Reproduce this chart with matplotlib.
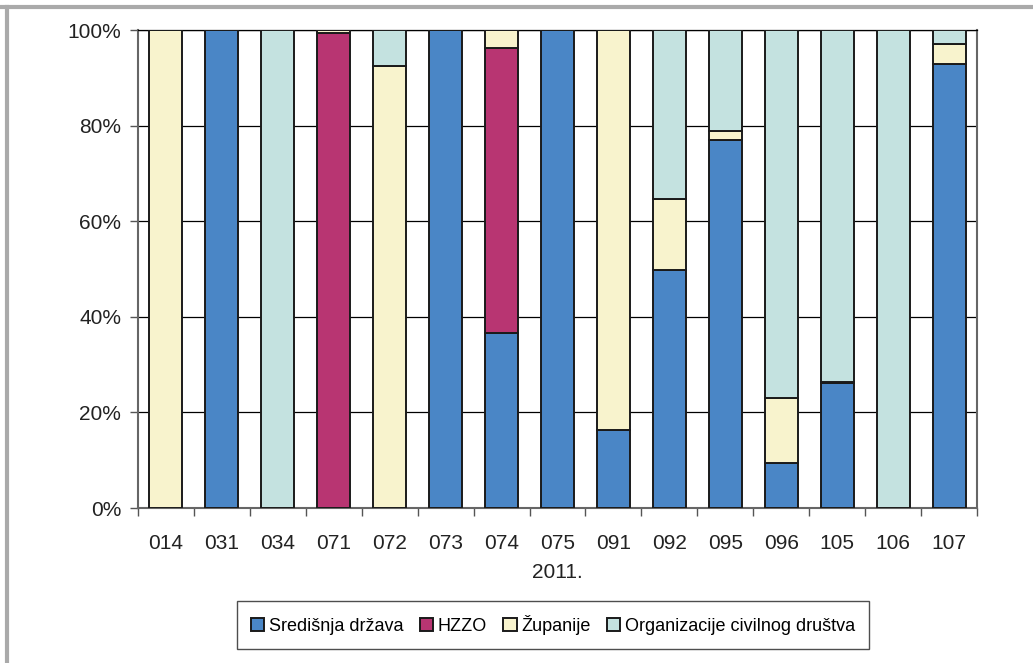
import numpy as np
import matplotlib.pyplot as plt
from matplotlib.lines import Line2D

plt.rcParams['font.family'] = ['Liberation Sans', 'DejaVu Sans']

categories = ['014', '031', '034', '071', '072', '073', '074', '075',
              '091', '092', '095', '096', '105', '106', '107']
series_names = ['Središnja država', 'HZZO', 'Županije', 'Organizacije civilnog društva']
colors = ['#4a86c6', '#b83572', '#f8f3cd', '#c4e2e0']

sredisnja = [0, 100, 0, 0, 0, 100, 36.6, 100, 16.3, 49.8, 76.9, 9.5, 26.1, 0, 92.8]
hzzo      = [0, 0, 0, 99.4, 0, 0, 59.6, 0, 0, 0, 0, 0, 0, 0, 0]
zupanije  = [100, 0, 0, 0.6, 92.5, 0, 3.8, 0, 83.7, 14.8, 1.9, 13.6, 0.3, 0, 4.2]
civilno   = [0, 0, 100, 0, 7.5, 0, 0, 0, 0, 35.4, 21.2, 76.9, 73.6, 100, 3.0]

fig = plt.figure(figsize=(10.33, 6.63), dpi=100)
ax = fig.add_axes([138 / 1033, 1 - 508 / 663, (977 - 138) / 1033, (508 - 30) / 663])

x = np.arange(len(categories))
bottom = np.zeros(len(categories))
for vals, name, col in zip([sredisnja, hzzo, zupanije, civilno], series_names, colors):
    vals = np.array(vals, dtype=float)
    ax.bar(x, vals, width=0.59, bottom=bottom, color=col, edgecolor='#1a1a1a',
           linewidth=1.4, label=name, zorder=3)
    bottom += vals

ax.set_xlim(-0.5, len(categories) - 0.5)
ax.set_ylim(0, 100)
ax.set_yticks(range(0, 101, 20))
ax.set_yticklabels([f'{v}%' for v in range(0, 101, 20)], fontsize=15, color='#222222')
ax.yaxis.grid(True, color='black', linewidth=0.9, zorder=0)

ax.set_xticks(x)
ax.set_xticklabels(categories, fontsize=15, color='#222222')
ax.set_xticks(np.arange(-0.5, len(categories), 1), minor=True)
ax.tick_params(axis='x', which='major', length=0, pad=19)
ax.tick_params(axis='x', which='minor', length=6, width=1, color='#555555')
ax.tick_params(axis='y', length=6, width=1, color='#555555', pad=6)
ax.set_xlabel('2011.', fontsize=15, color='#222222', labelpad=7)

for s in ['left', 'bottom', 'right']:
    ax.spines[s].set_color('#666666')
    ax.spines[s].set_linewidth(1.5)
ax.spines['top'].set_color('black')
ax.spines['top'].set_linewidth(0.9)

leg = fig.legend(loc='center', bbox_to_anchor=(553 / 1033, 1 - 625 / 663), ncol=4,
                 fontsize=13, frameon=True, fancybox=False, edgecolor='#222222',
                 handlelength=0.75, handleheight=0.75, handletextpad=0.25, columnspacing=0.9,
                 borderpad=0.75)
leg.get_frame().set_linewidth(1.0)

# outer frame lines
fig.add_artist(Line2D([0, 1], [1 - 7 / 663, 1 - 7 / 663], color='#aaaaaa', linewidth=3, transform=fig.transFigure))
fig.add_artist(Line2D([7 / 1033, 7 / 1033], [0, 1 - 7 / 663], color='#aaaaaa', linewidth=3, transform=fig.transFigure))

fig.savefig('out.png', dpi=100)
